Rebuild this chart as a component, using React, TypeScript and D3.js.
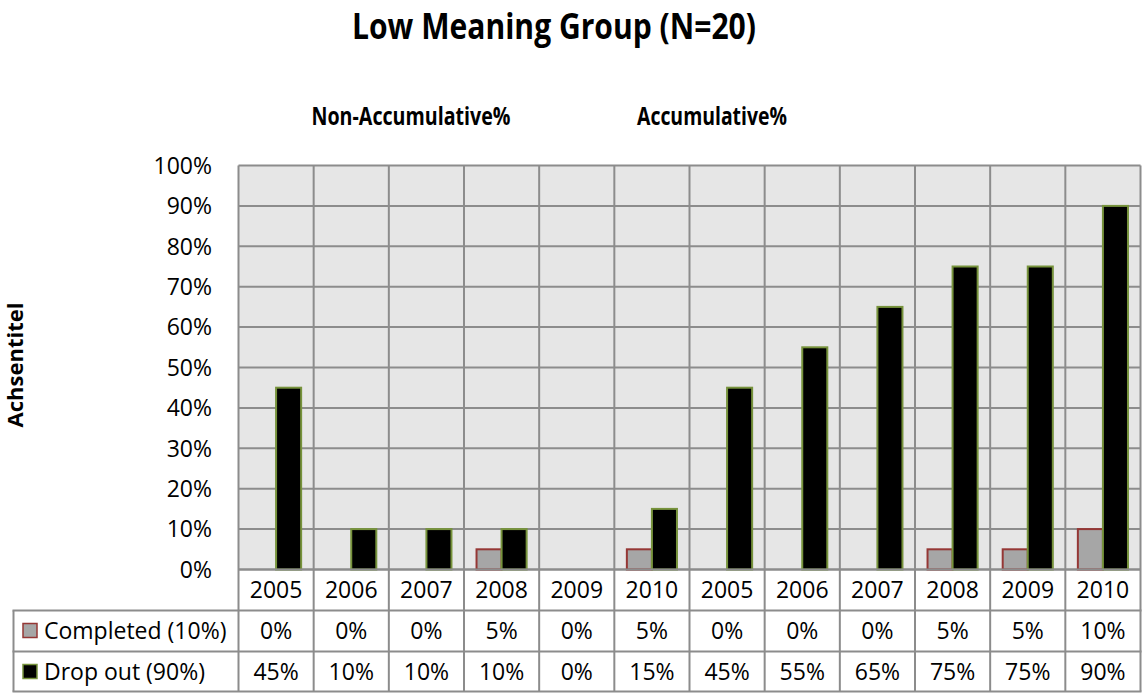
import React, { useEffect } from "react";
import * as d3 from "d3";

const years = ["2005", "2006", "2007", "2008", "2009", "2010", "2005", "2006", "2007", "2008", "2009", "2010"];
const seriesNames = ["Completed (10%)", "Drop out (90%)"];
const completed = [0, 0, 0, 5, 0, 5, 0, 0, 0, 5, 5, 10];
const dropOut = [45, 10, 10, 10, 0, 15, 45, 55, 65, 75, 75, 90];
const yTicks = [0, 10, 20, 30, 40, 50, 60, 70, 80, 90, 100];

const title = "Low Meaning Group (N=20)";
const groupTitles = ["Non-Accumulative%", "Accumulative%"];
const yTitle = "Achsentitel";

export default function App() {
  const svgRef = React.useRef(null);
  const width = 1142;
  const height = 693;

  useEffect(() => {
    const svg = d3.select(svgRef.current).attr("width", width).attr("height", height);
    svg.selectAll("*").remove();

    const font = "'Open Sans', sans-serif";
    const fontSize = "23px";
    const gridColor = "#8c8c8c";
    const plot = { left: 238.5, right: 1140.5, top: 165.5, bottom: 569.5 };
    const tableLeft = 13.5;
    const rowH = 41;
    const fills = ["#a6a6a6", "#000000"];
    const strokes = ["#953735", "#77933c"];
    const values = [completed, dropOut];

    const x = d3
      .scaleBand<number>()
      .domain(d3.range(years.length))
      .range([plot.left, plot.right])
      .paddingInner(0)
      .paddingOuter(0);

    const xInner = d3
      .scaleBand<number>()
      .domain([0, 1])
      .range([0, x.bandwidth()])
      .paddingInner(0)
      .paddingOuter(0.5);

    const y = d3.scaleLinear().domain([0, 100]).range([plot.bottom, plot.top]);

    // plot background
    svg
      .append("rect")
      .attr("x", plot.left)
      .attr("y", plot.top)
      .attr("width", plot.right - plot.left)
      .attr("height", plot.bottom - plot.top)
      .attr("fill", "#e6e6e6");

    // horizontal grid
    svg
      .append("g")
      .selectAll("line")
      .data(yTicks)
      .enter()
      .append("line")
      .attr("x1", plot.left)
      .attr("x2", plot.right)
      .attr("y1", (d) => y(d))
      .attr("y2", (d) => y(d))
      .attr("stroke", gridColor)
      .attr("stroke-width", 2);

    const tableBottom = plot.bottom + rowH * 3 - 1;

    // vertical lines through plot and table
    const bounds = d3.range(years.length + 1).map((i) => plot.left + i * x.step());
    svg
      .append("g")
      .selectAll("line")
      .data(bounds)
      .enter()
      .append("line")
      .attr("x1", (d) => d)
      .attr("x2", (d) => d)
      .attr("y1", plot.top)
      .attr("y2", tableBottom)
      .attr("stroke", gridColor)
      .attr("stroke-width", 2);

    // table row lines
    [plot.bottom + rowH, plot.bottom + rowH * 2, tableBottom].forEach((ly) => {
      svg
        .append("line")
        .attr("x1", tableLeft - 1)
        .attr("x2", plot.right + 1)
        .attr("y1", ly)
        .attr("y2", ly)
        .attr("stroke", gridColor)
        .attr("stroke-width", 2);
    });
    svg
      .append("line")
      .attr("x1", tableLeft)
      .attr("x2", tableLeft)
      .attr("y1", plot.bottom + rowH)
      .attr("y2", tableBottom)
      .attr("stroke", gridColor)
      .attr("stroke-width", 2);

    // bars
    values.forEach((vals, s) => {
      svg
        .append("g")
        .selectAll("rect")
        .data(vals.map((v, i) => ({ v, i })).filter((d) => d.v > 0))
        .enter()
        .append("rect")
        .attr("x", (d) => (x(d.i) as number) + (xInner(s) as number))
        .attr("y", (d) => y(d.v))
        .attr("width", xInner.bandwidth())
        .attr("height", (d) => plot.bottom - y(d.v))
        .attr("fill", fills[s])
        .attr("stroke", strokes[s])
        .attr("stroke-width", 2);
    });

    // bottom axis line over bars
    svg
      .append("line")
      .attr("x1", plot.left)
      .attr("x2", plot.right)
      .attr("y1", plot.bottom)
      .attr("y2", plot.bottom)
      .attr("stroke", gridColor)
      .attr("stroke-width", 2);

    // y tick labels
    svg
      .append("g")
      .selectAll("text")
      .data(yTicks)
      .enter()
      .append("text")
      .attr("x", 212)
      .attr("y", (d) => y(d))
      .attr("dy", "0.36em")
      .attr("text-anchor", "end")
      .style("font-family", font)
      .style("font-size", fontSize)
      .attr("fill", "#000")
      .text((d) => d + "%");

    // table: years row
    svg
      .append("g")
      .selectAll("text")
      .data(years)
      .enter()
      .append("text")
      .attr("x", (d, i) => (x(i) as number) + x.bandwidth() / 2)
      .attr("y", plot.bottom + rowH / 2)
      .attr("dy", "0.36em")
      .attr("text-anchor", "middle")
      .style("font-family", font)
      .style("font-size", fontSize)
      .text((d) => d);

    // table: value rows with legend keys
    values.forEach((vals, s) => {
      const rowMid = plot.bottom + rowH * (s + 1) + rowH / 2;
      svg
        .append("g")
        .selectAll("text")
        .data(vals)
        .enter()
        .append("text")
        .attr("x", (d, i) => (x(i) as number) + x.bandwidth() / 2)
        .attr("y", rowMid)
        .attr("dy", "0.36em")
        .attr("text-anchor", "middle")
        .style("font-family", font)
        .style("font-size", fontSize)
        .text((d) => d + "%");

      svg
        .append("rect")
        .attr("x", 23)
        .attr("y", rowMid - 7.5)
        .attr("width", 14)
        .attr("height", 14)
        .attr("fill", fills[s])
        .attr("stroke", strokes[s])
        .attr("stroke-width", 1.5);

      svg
        .append("text")
        .attr("x", 44)
        .attr("y", rowMid)
        .attr("dy", "0.36em")
        .style("font-family", font)
        .style("font-size", fontSize)
        .text(seriesNames[s]);
    });

    // titles
    svg
      .append("text")
      .attr("x", 554)
      .attr("y", 39)
      .attr("text-anchor", "middle")
      .attr("textLength", 404)
      .attr("lengthAdjust", "spacingAndGlyphs")
      .style("font-family", font)
      .style("font-weight", "bold")
      .style("font-size", "36px")
      .text(title);

    const groupPos = [
      { cx: 411, w: 199 },
      { cx: 712, w: 150 },
    ];
    groupTitles.forEach((t, i) => {
      svg
        .append("text")
        .attr("x", groupPos[i].cx)
        .attr("y", 125)
        .attr("text-anchor", "middle")
        .attr("textLength", groupPos[i].w)
        .attr("lengthAdjust", "spacingAndGlyphs")
        .style("font-family", font)
        .style("font-weight", "bold")
        .style("font-size", "25px")
        .text(t);
    });

    svg
      .append("text")
      .attr("transform", "translate(23, 365) rotate(-90)")
      .attr("text-anchor", "middle")
      .attr("textLength", 125)
      .attr("lengthAdjust", "spacingAndGlyphs")
      .style("font-family", font)
      .style("font-weight", "bold")
      .style("font-size", "21px")
      .text(yTitle);
  }, []);

  return (
    <div style={{ position: "absolute", left: 0, top: 0, background: "#fff" }}>
      <svg ref={svgRef} style={{ display: "block" }} />
    </div>
  );
}
